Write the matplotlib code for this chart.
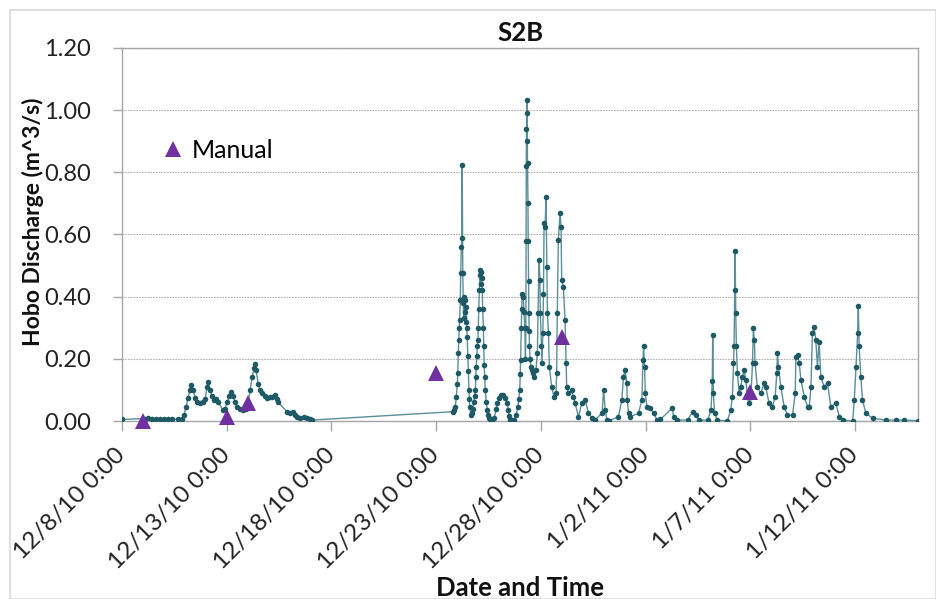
import numpy as np
import matplotlib
matplotlib.use("Agg")
import matplotlib.pyplot as plt
import matplotlib.dates as mdates
import matplotlib.transforms as mtransforms
from matplotlib.patches import Rectangle
from matplotlib.lines import Line2D

plt.rcParams['font.family'] = ['Lato', 'DejaVu Sans']

# ---------------- data ----------------
start_date = "2010-12-08"
# Hobo series: days since 12/8/10 0:00 and discharge (m^3/s)
hobo_days = [
    0.00, 1.10, 1.24, 1.43, 1.62, 1.82, 2.01, 2.20, 2.39, 2.68, 2.87, 2.96, 3.06, 3.15, 3.25, 3.30,
    3.39, 3.49, 3.58, 3.73, 3.87, 3.97, 4.06, 4.11, 4.20, 4.30, 4.39, 4.49, 4.59, 4.83, 4.92, 5.02,
    5.11, 5.21, 5.30, 5.40, 5.49, 5.64, 5.78, 5.92, 6.02, 6.12, 6.21, 6.31, 6.35, 6.40, 6.50, 6.59,
    6.69, 6.83, 6.93, 7.07, 7.17, 7.31, 7.41, 7.45, 7.88, 8.03, 8.17, 8.27, 8.36, 8.50, 8.70, 8.84,
    8.98, 9.08,
    15.81, 15.86, 15.91, 15.96, 16.01, 16.03, 16.05, 16.08, 16.10, 16.12, 16.15, 16.17, 16.20, 16.22,
    16.24, 16.27, 16.29, 16.31, 16.34, 16.36, 16.39, 16.41, 16.44, 16.46, 16.48, 16.51, 16.53, 16.56,
    16.58, 16.60, 16.65, 16.70, 16.75, 16.79, 16.84, 16.87, 16.89, 16.91, 16.94, 16.96, 16.99, 17.01,
    17.03, 17.06, 17.08, 17.10, 17.13, 17.15, 17.17, 17.20, 17.22, 17.25, 17.27, 17.29, 17.32, 17.34,
    17.39, 17.44, 17.48, 17.53, 17.58, 17.68, 17.77, 17.87, 17.92, 18.01, 18.11, 18.20, 18.30, 18.39,
    18.44, 18.49, 18.54, 18.63, 18.73, 18.82, 18.90, 18.94, 18.99, 19.01, 19.03, 19.06, 19.08, 19.11,
    19.16, 19.19, 19.23, 19.26, 19.28, 19.29, 19.30, 19.31, 19.33, 19.34, 19.35, 19.36, 19.38, 19.39,
    19.41, 19.42, 19.44, 19.45, 19.48, 19.52, 19.56, 19.61, 19.69, 19.76, 19.83, 19.86, 19.91, 19.95,
    19.97, 20.02, 20.05, 20.09, 20.12, 20.15, 20.20, 20.24, 20.28, 20.31, 20.36, 20.40, 20.51, 20.62,
    20.72, 20.75, 20.78, 20.83, 20.91, 20.96, 20.99, 21.07, 21.15, 21.20, 21.23, 21.31, 21.47, 21.55,
    21.63, 21.79, 21.95, 22.11, 22.27, 22.43, 22.56, 22.92, 22.99, 23.07, 23.15, 23.23,
    23.70, 23.86, 23.94, 24.02, 24.10, 24.12, 24.18, 24.26,
    24.66, 24.82, 24.87, 24.90, 24.95, 24.98, 25.06, 25.22, 25.38, 25.54, 25.70,
    26.26, 26.34, 26.50, 27.00, 27.24, 27.40, 27.56, 27.96, 28.12, 28.18, 28.20, 28.23, 28.29, 28.42,
    28.90, 29.06, 29.14, 29.19, 29.22, 29.25, 29.27, 29.30, 29.33, 29.38, 29.46, 29.54, 29.62, 29.70,
    29.78, 29.86, 29.94, 30.02, 30.10, 30.14, 30.19, 30.22, 30.33, 30.49, 30.65, 30.73, 30.89, 31.05,
    31.18, 31.26, 31.29, 31.34, 31.45, 31.61, 31.77, 32.01, 32.14, 32.17, 32.25, 32.33, 32.41, 32.57,
    32.73, 32.81, 32.89, 32.96, 33.04, 33.12, 33.20, 33.28, 33.36, 33.52, 33.68, 33.84, 34.08, 34.24,
    34.40, 34.88, 34.96, 35.04, 35.12, 35.15, 35.19, 35.27, 35.35, 35.51, 35.83, 36.47,
    36.95, 37.35, 37.99,
]
hobo_q = [
    0.005, 0.008, 0.010, 0.007, 0.005, 0.006, 0.008, 0.007, 0.006, 0.005, 0.006, 0.020, 0.045, 0.075, 0.100, 0.116,
    0.100, 0.075, 0.060, 0.058, 0.060, 0.070, 0.110, 0.125, 0.100, 0.080, 0.068, 0.070, 0.060, 0.035, 0.040, 0.060,
    0.080, 0.093, 0.080, 0.060, 0.045, 0.040, 0.035, 0.040, 0.060, 0.100, 0.140, 0.170, 0.183, 0.165, 0.120, 0.100,
    0.090, 0.080, 0.074, 0.078, 0.077, 0.083, 0.070, 0.060, 0.030, 0.025, 0.030, 0.020, 0.013, 0.010, 0.012, 0.010,
    0.005, 0.003,
    0.030, 0.035, 0.046, 0.078, 0.120, 0.153, 0.218, 0.260, 0.300, 0.325, 0.390, 0.475, 0.560, 0.588,
    0.824, 0.475, 0.380, 0.330, 0.400, 0.350, 0.390, 0.320, 0.368, 0.300, 0.270, 0.210, 0.160, 0.100,
    0.070, 0.046, 0.020, 0.025, 0.040, 0.060, 0.080, 0.100, 0.140, 0.175, 0.210, 0.240, 0.260, 0.300,
    0.360, 0.420, 0.486, 0.470, 0.440, 0.480, 0.460, 0.420, 0.360, 0.300, 0.240, 0.180, 0.140, 0.100,
    0.060, 0.035, 0.020, 0.010, 0.005, 0.003, 0.010, 0.040, 0.057, 0.075, 0.084, 0.084, 0.075, 0.057,
    0.035, 0.015, 0.003, 0.002, 0.003, 0.020, 0.046, 0.070, 0.100, 0.150, 0.196, 0.300, 0.360, 0.410,
    0.400, 0.350, 0.300, 0.200, 0.300, 0.580, 0.820, 0.940, 1.033, 0.990, 0.900, 0.830, 0.700, 0.580,
    0.450, 0.347, 0.290, 0.240, 0.200, 0.175, 0.164, 0.154, 0.143, 0.164, 0.218, 0.347, 0.518, 0.454,
    0.347, 0.240, 0.186, 0.283, 0.410, 0.636, 0.625, 0.722, 0.497, 0.347, 0.283, 0.175, 0.110, 0.078,
    0.090, 0.154, 0.347, 0.582, 0.668, 0.625, 0.454, 0.432, 0.325, 0.186, 0.110, 0.090, 0.100, 0.078,
    0.057, 0.014, 0.057, 0.068, 0.025, 0.010, 0.003, 0.025, 0.100, 0.035, 0.003, 0.000,
    0.014, 0.068, 0.143, 0.164, 0.121, 0.068, 0.025, 0.014,
    0.025, 0.068, 0.196, 0.240, 0.175, 0.089, 0.046, 0.041, 0.025, 0.003, 0.005,
    0.041, 0.014, 0.003, 0.003, 0.030, 0.019, 0.003, 0.003, 0.035, 0.130, 0.277, 0.089, 0.025, 0.003,
    0.000, 0.035, 0.078, 0.186, 0.240, 0.421, 0.547, 0.347, 0.240, 0.153, 0.089, 0.110, 0.143, 0.164,
    0.132, 0.078, 0.057, 0.078, 0.186, 0.298, 0.260, 0.186, 0.110, 0.089, 0.121, 0.110, 0.057, 0.046,
    0.078, 0.153, 0.218, 0.175, 0.110, 0.046, 0.019, 0.019, 0.089, 0.207, 0.212, 0.186, 0.132, 0.078,
    0.046, 0.046, 0.110, 0.282, 0.303, 0.260, 0.175, 0.255, 0.143, 0.110, 0.121, 0.046, 0.057, 0.014,
    0.003, 0.000, 0.068, 0.175, 0.282, 0.370, 0.240, 0.143, 0.068, 0.025, 0.009, 0.003,
    0.003, 0.003, 0.001,
]

manual_times = ["2010-12-09 00:00", "2010-12-13 00:00", "2010-12-14 00:30",
                "2010-12-23 00:00", "2010-12-29 00:00", "2011-01-07 00:00"]
manual_q = [0.000, 0.013, 0.057, 0.153, 0.271, 0.093]

tick_dates = ["2010-12-08", "2010-12-13", "2010-12-18", "2010-12-23",
              "2010-12-28", "2011-01-02", "2011-01-07", "2011-01-12"]
tick_labels = ["12/8/10 0:00", "12/13/10 0:00", "12/18/10 0:00", "12/23/10 0:00",
               "12/28/10 0:00", "1/2/11 0:00", "1/7/11 0:00", "1/12/11 0:00"]
x_end = "2011-01-15"
y_ticks = [0.0, 0.2, 0.4, 0.6, 0.8, 1.0, 1.2]

# ---------------- figure ----------------
W, H = 937, 599
fig = plt.figure(figsize=(W / 100, H / 100), dpi=100)
fig.patch.set_facecolor("white")
fig.add_artist(Rectangle((10 / W, 0.0), (W - 11) / W, (H - 10) / H, transform=fig.transFigure,
                         fill=False, edgecolor="#d9d9d9", lw=1.2))

ax = fig.add_axes([122 / W, 1 - 421 / H, (918 - 122) / W, (421 - 48) / H])

base = mdates.date2num(np.datetime64(start_date))
hx = base + np.array(hobo_days)
mx = mdates.date2num(np.array(manual_times, dtype="datetime64[m]"))

ax.plot(hx, hobo_q, "-", color="#5a8f99", lw=1.0, zorder=3)
ax.plot(hx, hobo_q, "o", ls="none", color="#1d5a66", ms=4.0, mew=0, zorder=4)
ax.plot(mx, manual_q, "^", ls="none", color="#7030a0", ms=11.5, mew=0, zorder=5, clip_on=False)

ax.set_xlim(base, mdates.date2num(np.datetime64(x_end)))
ax.set_ylim(0, 1.2)
ax.set_yticks(y_ticks)
ax.set_yticklabels([f"{v:.2f}" for v in y_ticks])
ax.set_xticks(mdates.date2num(np.array(tick_dates, dtype="datetime64[D]")))
ax.set_xticklabels(tick_labels, rotation=45, ha="right", va="center", rotation_mode="anchor")
shift = mtransforms.ScaledTranslation(8 / 100, 0, fig.dpi_scale_trans)
for lbl in ax.get_xticklabels():
    lbl.set_transform(lbl.get_transform() + shift)

ax.grid(axis="y", color="#b0b0b0", lw=0.8, ls=(0, (1.5, 1.0)))
ax.set_axisbelow(True)
for s in ax.spines.values():
    s.set_color("#a6a6a6")
    s.set_linewidth(1.0)

ax.tick_params(axis="y", length=6.5, width=1, color="#a6a6a6", pad=16, labelsize=17, labelcolor="#222222")
ax.tick_params(axis="x", length=7, width=1, color="#a6a6a6", pad=15, labelsize=17.5, labelcolor="#222222")

ax.set_title("S2B", fontsize=18.5, fontweight="bold", pad=5, color="#111111")
fig.text(520 / W, 1 - 588 / H, "Date and Time", ha="center", va="center",
         fontsize=18.5, fontweight="bold", color="#111111")
fig.text(33 / W, 1 - 222 / H, "Hobo Discharge (m^3/s)", ha="center", va="center",
         rotation=90, fontsize=16.5, fontweight="bold", color="#111111")

handle = Line2D([], [], marker="^", ls="none", color="#7030a0", ms=11, mew=0)
ax.legend([handle], ["Manual"], loc="center left", bbox_to_anchor=(161 / W, 1 - 150 / H),
          bbox_transform=fig.transFigure, frameon=False, fontsize=18, handlelength=1.0,
          handletextpad=0.25, borderpad=0, borderaxespad=0)

fig.savefig("out.png", dpi=100, facecolor="white")
